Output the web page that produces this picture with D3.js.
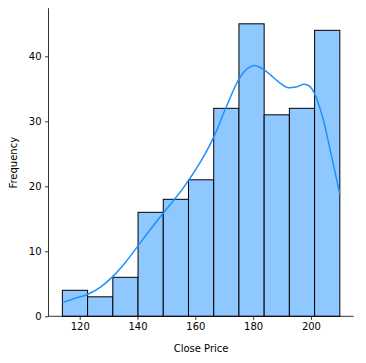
<!DOCTYPE html>
<html>
<head>
<meta charset="utf-8">
<script src="https://cdn.jsdelivr.net/npm/d3@7"></script>
<style>
    body { margin: 0; background: #fff; }
    svg { display: block; }
    text { font-family: 'DejaVu Sans', sans-serif; font-size: 10px; fill: #000; }
</style>
</head>
<body>
<div id="chart"></div>
<script>
// Histogram bins (Close Price) and counts
var binStart = 114,
    binEnd = 210,
    counts = [ 4, 3, 6, 16, 18, 21, 32, 45, 31, 32, 44 ];

// KDE curve (price, scaled to counts)
var kdeX = [ 114, 118, 122.8, 127.2, 131.4, 136, 140.1, 144.5, 149.1, 155.6, 162, 166.4, 170.5, 175.1, 178, 180.6, 183.8, 186.1, 189, 191.9, 195, 197.6, 199.5, 201.1, 204, 206.9, 209.8, 210 ],
    kdeY = [ 2.1, 2.7, 3.4, 4.5, 6.1, 8.4, 10.8, 13.4, 16.0, 19.6, 23.9, 27.6, 32.0, 36.5, 38.1, 38.6, 37.9, 37.1, 36.0, 35.2, 35.3, 35.7, 35.4, 34.4, 30.7, 25.1, 19.2, 18.8 ];

var xTicks = [ 120, 140, 160, 180, 200 ],
    yTicks = [ 0, 10, 20, 30, 40 ];

var width = 366,
    height = 363,
    margin = { left: 48.5, right: 12.3, top: 9.2, bottom: 46.7 };

var svg = d3.select( '#chart' ).append( 'svg' )
    .attr( 'width', width )
    .attr( 'height', height );

var pad = ( binEnd - binStart ) * 0.05;
var x = d3.scaleLinear()
    .domain( [ binStart - pad, binEnd + pad ] )
    .range( [ margin.left, width - margin.right ] );

var y = d3.scaleLinear()
    .domain( [ 0, d3.max( counts ) * 1.05 ] )
    .range( [ height - margin.bottom, margin.top ] );

var binW = ( binEnd - binStart ) / counts.length;

// bars
svg.append( 'g' )
    .selectAll( 'rect' )
    .data( counts )
    .enter()
    .append( 'rect' )
    .attr( 'x', ( d, i ) => x( binStart + i * binW ) )
    .attr( 'width', ( d, i ) => x( binStart + ( i + 1 ) * binW ) - x( binStart + i * binW ) )
    .attr( 'y', d => y( d ) )
    .attr( 'height', d => y( 0 ) - y( d ) )
    .attr( 'fill', '#8fc7ff' )
    .attr( 'stroke', '#000' )
    .attr( 'stroke-width', 1 );

// kde
var line = d3.line()
    .x( d => x( d[ 0 ] ) )
    .y( d => y( d[ 1 ] ) )
    .curve( d3.curveCatmullRom.alpha( 0.5 ) );

svg.append( 'path' )
    .datum( kdeX.map( ( v, i ) => [ v, kdeY[ i ] ] ) )
    .attr( 'd', line )
    .attr( 'fill', 'none' )
    .attr( 'stroke', '#1e90ff' )
    .attr( 'stroke-width', 1.5 );

// axes
var xAxis = svg.append( 'g' )
    .attr( 'transform', 'translate(0,' + y( 0 ) + ')' )
    .call( d3.axisBottom( x ).tickValues( xTicks ).tickSize( 3.5 ).tickPadding( 3.5 ) );

var yAxis = svg.append( 'g' )
    .attr( 'transform', 'translate(' + margin.left + ',0)' )
    .call( d3.axisLeft( y ).tickValues( yTicks ).tickSize( 3.5 ).tickPadding( 3.5 ) );

[ xAxis, yAxis ].forEach( g => {
    g.select( '.domain' ).remove();
    g.selectAll( 'line' ).attr( 'stroke-width', 0.8 );
    g.attr( 'font-family', null ).attr( 'font-size', null );
} );

// spines
svg.append( 'line' )
    .attr( 'x1', margin.left ).attr( 'x2', width - margin.right )
    .attr( 'y1', y( 0 ) ).attr( 'y2', y( 0 ) )
    .attr( 'stroke', '#000' ).attr( 'stroke-width', 0.8 );
svg.append( 'line' )
    .attr( 'x1', margin.left ).attr( 'x2', margin.left )
    .attr( 'y1', y( 0 ) ).attr( 'y2', margin.top - 1 )
    .attr( 'stroke', '#000' ).attr( 'stroke-width', 0.8 );

// labels
svg.append( 'text' )
    .attr( 'x', ( margin.left + width - margin.right ) / 2 )
    .attr( 'y', 351.5 )
    .attr( 'text-anchor', 'middle' )
    .text( 'Close Price' );

svg.append( 'text' )
    .attr( 'transform', 'translate(16.5,' + ( ( margin.top + y( 0 ) ) / 2 ) + ') rotate(-90)' )
    .attr( 'text-anchor', 'middle' )
    .text( 'Frequency' );
</script>
</body>
</html>
